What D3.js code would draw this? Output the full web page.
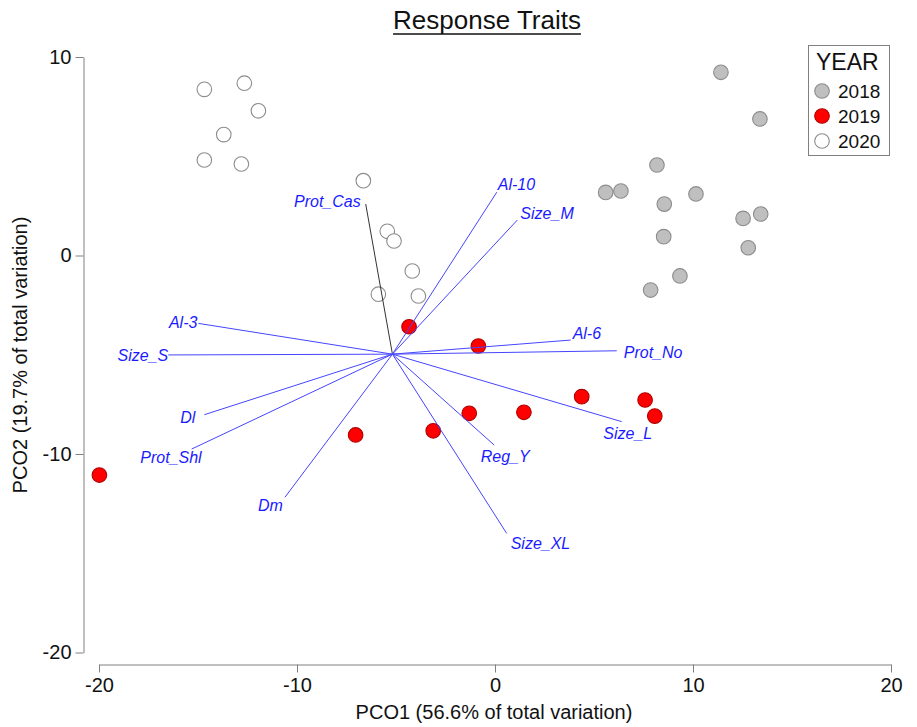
<!DOCTYPE html>
<html><head><meta charset="utf-8">
<script src="https://cdn.jsdelivr.net/npm/d3@7"></script>
<style>
body{margin:0;background:#fff;}
svg{display:block;font-family:Arial,"Liberation Sans",sans-serif;}
</style>
</head><body>
<svg id="chart" width="917" height="727"></svg>
<script>
// ---------- DATA ----------
const title = "Response Traits";
const xLabel = "PCO1 (56.6% of total variation)";
const yLabel = "PCO2 (19.7% of total variation)";
const xTicks = [-20, -10, 0, 10, 20];
const yTicks = [-20, -10, 0, 10];
const years = ["2018", "2019", "2020"];

const pco1_2018 = [11.41, 13.38, 8.18, 6.36, 5.59, 10.15, 8.55, 8.52, 12.53, 13.42, 12.79, 9.34, 7.86];
const pco2_2018 = [9.23, 6.88, 4.56, 3.25, 3.18, 3.10, 2.59, 0.95, 1.87, 2.09, 0.39, -1.03, -1.74];

const pco1_2019 = [-19.98, -7.04, -4.34, -3.12, -1.30, -0.84, 1.46, 4.38, 7.58, 8.07];
const pco2_2019 = [-11.06, -9.04, -3.59, -8.83, -7.95, -4.56, -7.90, -7.11, -7.28, -8.09];

const pco1_2020 = [-14.68, -12.66, -11.95, -13.70, -14.68, -12.81, -6.65, -5.44, -5.10, -4.18, -5.89, -3.87];
const pco2_2020 = [8.37, 8.68, 7.29, 6.09, 4.81, 4.61, 3.77, 1.22, 0.73, -0.78, -1.95, -2.04];

const vectorOrigin = [-5.18, -4.97];
const vectorNames = ["Prot_Cas", "Al-10", "Size_M", "Al-6", "Prot_No", "Size_L", "Reg_Y", "Size_XL", "Dm", "Prot_Shl", "Dl", "Size_S", "Al-3"];
const vectorX = [-6.53, 0.09, 1.13, 3.82, 6.15, 6.40, -0.04, 0.59, -10.61, -15.32, -14.68, -16.50, -14.98];
const vectorY = [2.59, 3.19, 1.79, -4.26, -4.80, -8.37, -9.55, -14.00, -12.18, -9.75, -8.02, -5.01, -3.42];

// ---------- STYLE / LAYOUT ----------
const yearStyle = {
  "2018": {fill: "#bfbfbf", stroke: "#8c8c8c"},
  "2019": {fill: "#ff0000", stroke: "#b00000"},
  "2020": {fill: "#ffffff", stroke: "#8c8c8c"}
};
// label placement relative to vector tip: [text-anchor, dx, dy(center)]
const labelPlace = {
  "Prot_Cas": ["end", -5, -3], "Al-10": ["start", 1, -8], "Size_M": ["start", 3, -7],
  "Al-6": ["start", 2, -7], "Prot_No": ["start", 7, 2], "Size_L": ["middle", 6, 12],
  "Reg_Y": ["middle", 11, 11], "Size_XL": ["start", 4, 10], "Dm": ["end", -2, 8],
  "Prot_Shl": ["end", 10, 8], "Dl": ["end", -9, 3], "Size_S": ["end", 0, 0], "Al-3": ["end", -1, -1]
};

const svg = d3.select("#chart");
const x = d3.scaleLinear().domain([-20, 20]).range([99, 891]);
const y = d3.scaleLinear().domain([-20, 10]).range([652.5, 57]);
const axisColor = "#808080";

// Title
const t = svg.append("text").attr("x", 487).attr("y", 29).attr("text-anchor", "middle")
  .attr("font-size", 26).attr("fill", "#111").text(title);
const tb = t.node().getBBox();
svg.append("line").attr("x1", tb.x).attr("x2", tb.x + tb.width).attr("y1", 34).attr("y2", 34)
  .attr("stroke", "#111").attr("stroke-width", 1.5);

// Axes
const xAxis = svg.append("g").attr("transform", "translate(0,664.5)")
  .call(d3.axisBottom(x).tickValues(xTicks).tickSize(8).tickSizeOuter(0).tickPadding(5));
const yAxis = svg.append("g").attr("transform", "translate(83.5,0)")
  .call(d3.axisLeft(y).tickValues(yTicks).tickSize(8).tickSizeOuter(0).tickPadding(4));
[xAxis, yAxis].forEach(g => {
  g.selectAll("path,line").attr("stroke", axisColor);
  g.selectAll("text").attr("font-size", 20).attr("fill", "#111")
    .attr("font-family", "Arial, 'Liberation Sans', sans-serif")
    .text(d => String(d));
});

svg.append("text").attr("x", 494).attr("y", 719).attr("text-anchor", "middle")
  .attr("font-size", 20).attr("fill", "#111").text(xLabel);
svg.append("text").attr("transform", "translate(27,355) rotate(-90)").attr("text-anchor", "middle")
  .attr("font-size", 20).attr("fill", "#111").text(yLabel);

// Points
const pts = [];
pco1_2018.forEach((v, i) => pts.push({year: "2018", px: v, py: pco2_2018[i]}));
pco1_2019.forEach((v, i) => pts.push({year: "2019", px: v, py: pco2_2019[i]}));
pco1_2020.forEach((v, i) => pts.push({year: "2020", px: v, py: pco2_2020[i]}));
svg.append("g").selectAll("circle").data(pts).join("circle")
  .attr("cx", d => x(d.px)).attr("cy", d => y(d.py)).attr("r", 7.3)
  .attr("fill", d => yearStyle[d.year].fill).attr("stroke", d => yearStyle[d.year].stroke).attr("stroke-width", 1.1);

// Vectors
const vecs = vectorNames.map((n, i) => ({name: n, vx: vectorX[i], vy: vectorY[i]}));
const vg = svg.append("g");
vg.selectAll("line").data(vecs).join("line")
  .attr("x1", x(vectorOrigin[0])).attr("y1", y(vectorOrigin[1]))
  .attr("x2", d => x(d.vx)).attr("y2", d => y(d.vy))
  .attr("stroke", d => d.name === "Prot_Cas" ? "#333333" : "#4545ff").attr("stroke-width", 1);
vg.selectAll("text").data(vecs).join("text")
  .attr("x", d => x(d.vx) + labelPlace[d.name][1])
  .attr("y", d => y(d.vy) + labelPlace[d.name][2])
  .attr("dy", "0.35em")
  .attr("text-anchor", d => labelPlace[d.name][0])
  .attr("font-size", 16).attr("font-style", "italic").attr("fill", "#1a1aff")
  .text(d => d.name);

// Legend
const lg = svg.append("g");
lg.append("rect").attr("x", 808.5).attr("y", 45.5).attr("width", 81).attr("height", 110)
  .attr("fill", "#fff").attr("stroke", axisColor).attr("stroke-width", 1);
lg.append("text").attr("x", 816).attr("y", 70).attr("font-size", 23).attr("fill", "#111").text("YEAR");
years.forEach((yr, i) => {
  const cy = 91 + i * 25;
  lg.append("circle").attr("cx", 822).attr("cy", cy).attr("r", 7.3)
    .attr("fill", yearStyle[yr].fill).attr("stroke", yearStyle[yr].stroke).attr("stroke-width", 1.1);
  lg.append("text").attr("x", 838).attr("y", cy + 7).attr("font-size", 19).attr("fill", "#111").text(yr);
});
</script>
</body></html>
